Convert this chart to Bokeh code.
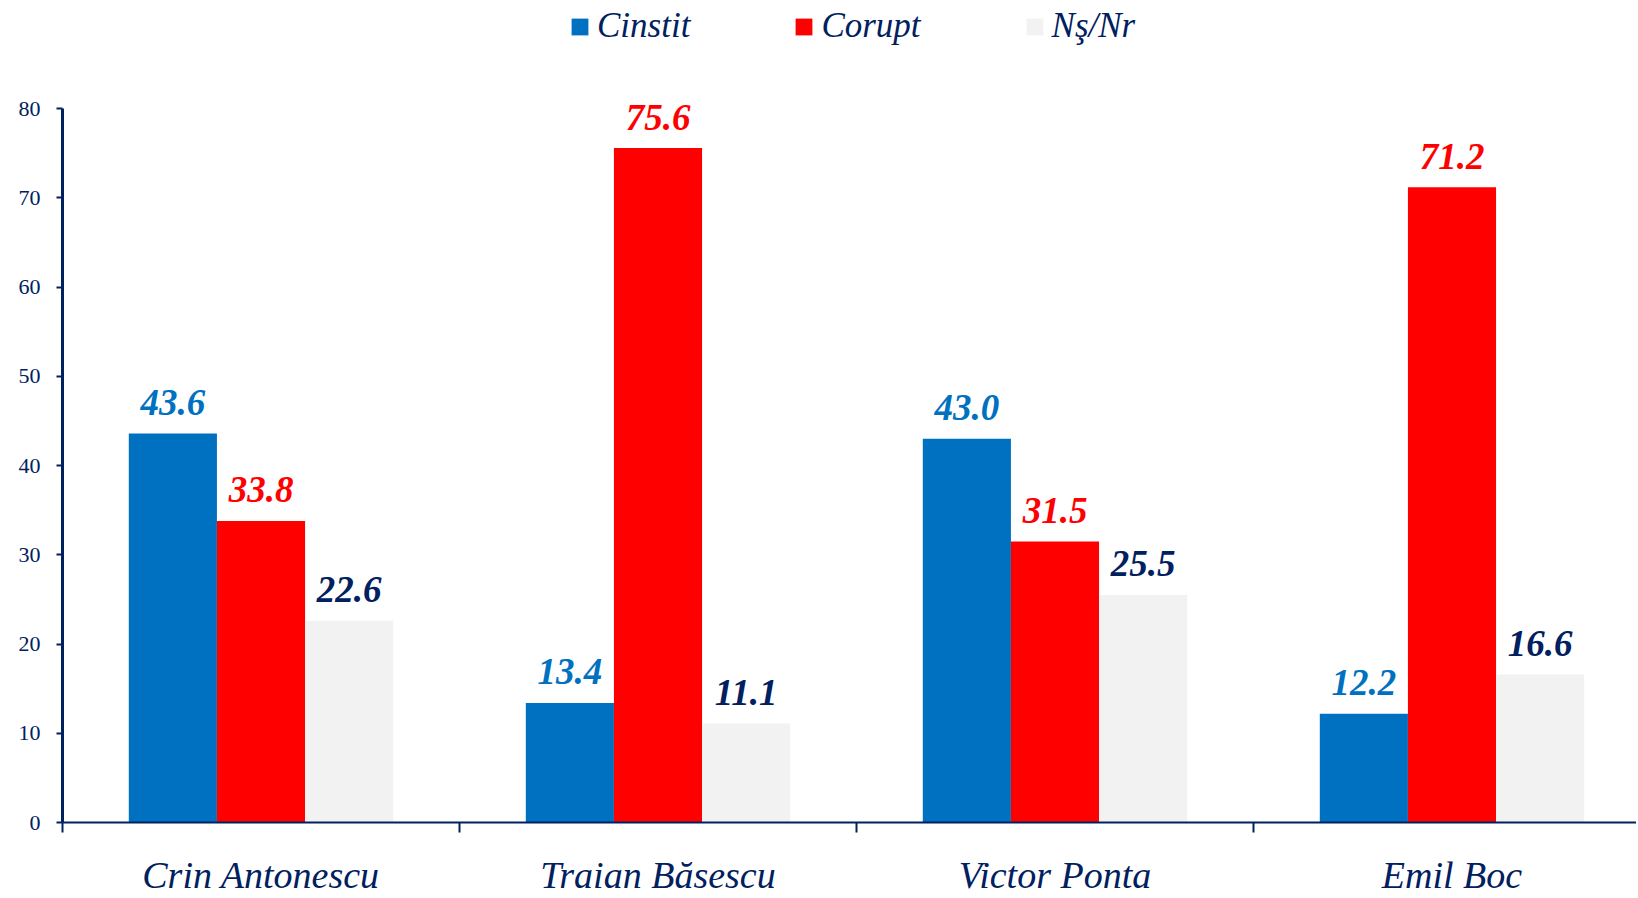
from bokeh.plotting import figure
from bokeh.models import ColumnDataSource, Range1d, FixedTicker, Legend, LegendItem
from bokeh.core.properties import value
from bokeh.embed import file_html
from bokeh.resources import INLINE

categories = ["Crin Antonescu", "Traian Băsescu", "Victor Ponta", "Emil Boc"]
series_names = ["Cinstit", "Corupt", "Nş/Nr"]
cinstit = [43.6, 13.4, 43.0, 12.2]
corupt = [33.8, 75.6, 31.5, 71.2]
nsnr = [22.6, 11.1, 25.5, 16.6]
y_ticks = [0, 10, 20, 30, 40, 50, 60, 70, 80]

series_values = [cinstit, corupt, nsnr]
bar_colors = ["#0070C0", "#FF0000", "#F2F2F2"]
label_colors = ["#0070C0", "#FF0000", "#002060"]
NAVY = "#002060"
FONT = "Liberation Serif"

W, H = 1636, 898
left, bottom = 62, 75
frame_h = H - bottom
px_per_unit = 714.6 / 80.0
y_top = frame_h / px_per_unit
cat_px = 397.0
x_end = (W - left) / cat_px

p = figure(width=W, height=H, output_backend="svg", toolbar_location=None,
           x_range=Range1d(0, x_end), y_range=Range1d(0, y_top),
           min_border_left=left, min_border_right=0, min_border_top=0,
           min_border_bottom=bottom)
p.outline_line_color = None
p.xgrid.visible = False
p.ygrid.visible = False
p.background_fill_color = "white"
p.border_fill_color = "white"

bw = 0.222
offsets = [-bw, 0.0, bw]
renderers = []
for name, vals, col, lcol, off in zip(series_names, series_values, bar_colors, label_colors, offsets):
    src = ColumnDataSource(dict(
        x=[i + 0.5 + off for i in range(len(categories))],
        top=vals,
        label=[f"{v:.1f}" for v in vals],
    ))
    r = p.vbar(x="x", top="top", width=bw, bottom=0, source=src,
               fill_color=col, line_color=None)
    renderers.append(r)
    p.text(x="x", y="top", text="label", source=src, text_align="center",
           text_baseline="alphabetic", y_offset=-31, text_color=lcol,
           text_font=value(FONT), text_font_size="37px",
           text_font_style="bold italic")

# y axis
ya = p.yaxis[0]
ya.ticker = FixedTicker(ticks=y_ticks)
ya.bounds = (0, 80)
ya.axis_line_color = NAVY
ya.axis_line_width = 3
ya.major_tick_line_color = NAVY
ya.major_tick_line_width = 2
ya.major_tick_out = 6
ya.major_tick_in = 0
ya.minor_tick_line_color = None
ya.major_label_text_font = FONT
ya.major_label_text_font_size = "22px"
ya.major_label_text_color = NAVY
ya.major_label_standoff = 16

# x axis
xa = p.xaxis[0]
centers = [i + 0.5 for i in range(len(categories))]
bounds_ticks = [i for i in range(len(categories) + 1)]
xa.ticker = FixedTicker(ticks=centers, minor_ticks=bounds_ticks)
xa.major_label_overrides = {c: name for c, name in zip(centers, categories)}
xa.axis_line_color = NAVY
xa.axis_line_width = 2
xa.major_tick_line_color = None
xa.major_tick_out = 0
xa.major_tick_in = 0
xa.minor_tick_line_color = NAVY
xa.minor_tick_line_width = 2
xa.minor_tick_out = 10
xa.minor_tick_in = 0
xa.major_label_text_font = FONT
xa.major_label_text_font_size = "38px"
xa.major_label_text_font_style = "italic"
xa.major_label_text_color = NAVY
xa.major_label_standoff = 21

legend = Legend(items=[LegendItem(label=n, renderers=[r]) for n, r in zip(series_names, renderers)],
                orientation="horizontal", location=(507, 776))
legend.glyph_width = 21
legend.glyph_height = 21
legend.label_standoff = 7
legend.spacing = 103
legend.padding = 0
legend.margin = 0
legend.border_line_color = None
legend.background_fill_alpha = 0
legend.label_text_font = FONT
legend.label_text_font_size = "35px"
legend.label_text_font_style = "italic"
legend.label_text_color = NAVY
p.add_layout(legend)

open("out.html", "w").write(file_html(p, INLINE))
